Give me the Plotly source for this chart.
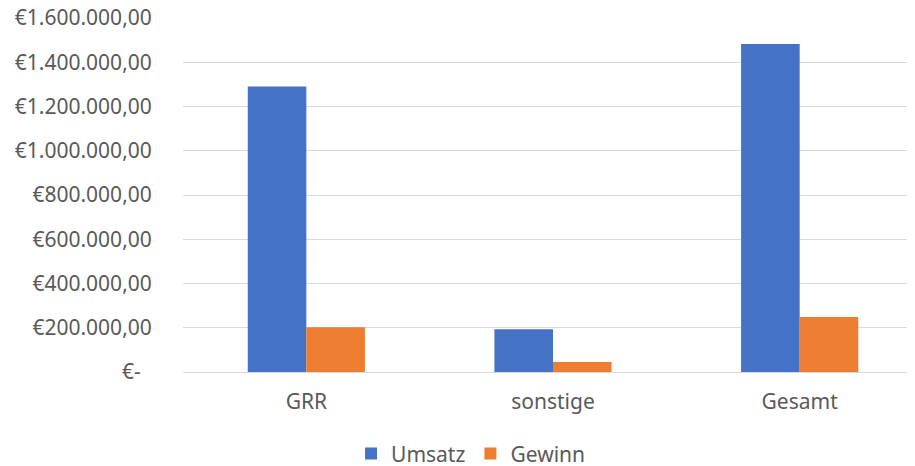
import plotly.graph_objects as go

categories = ["GRR", "sonstige", "Gesamt"]
umsatz = [1290000, 193000, 1482000]
gewinn = [202000, 45000, 249000]

tick_vals = [0, 200000, 400000, 600000, 800000, 1000000, 1200000, 1400000, 1600000]
tick_text = ["€-\u00a0\u00a0", "€200.000,00", "€400.000,00", "€600.000,00", "€800.000,00",
             "€1.000.000,00", "€1.200.000,00", "€1.400.000,00", "€1.600.000,00"]

FONT = "Noto Sans"
GREY = "#595959"

fig = go.Figure()
fig.add_trace(go.Bar(x=categories, y=umsatz, name="Umsatz",
                     marker=dict(color="#4472C4", line=dict(width=0))))
fig.add_trace(go.Bar(x=categories, y=gewinn, name="Gewinn",
                     marker=dict(color="#ED7D31", line=dict(width=0))))

# page body has an 8px margin, so margins are shifted to compensate
fig.update_layout(
    width=915, height=466,
    margin=dict(l=175, r=0, t=10, b=102, autoexpand=False),
    paper_bgcolor="white", plot_bgcolor="white",
    font=dict(family=FONT, size=21, color=GREY),
    barmode="group", bargap=0.525, bargroupgap=0,
    showlegend=True,
    legend=dict(orientation="h", xref="container", yref="container",
                x=0.5055, xanchor="center", y=0.043, yanchor="middle",
                font=dict(family=FONT, size=21, color=GREY)),
)
fig.update_xaxes(range=[-0.5, 2.5], showgrid=False, showline=False, automargin=False,
                 ticks="outside", ticklen=0, ticklabelstandoff=11,
                 tickfont=dict(family=FONT, size=21, color=GREY))
fig.update_yaxes(range=[0, 1600000], tickvals=tick_vals, ticktext=tick_text, automargin=False,
                 ticklabeloverflow="allow",
                 showgrid=True, gridcolor="#D9D9D9", gridwidth=1,
                 zeroline=True, zerolinecolor="#D9D9D9", zerolinewidth=1,
                 ticks="outside", ticklen=0, ticklabelstandoff=26,
                 tickfont=dict(family=FONT, size=21, color=GREY))

fig.write_html("out.html")
